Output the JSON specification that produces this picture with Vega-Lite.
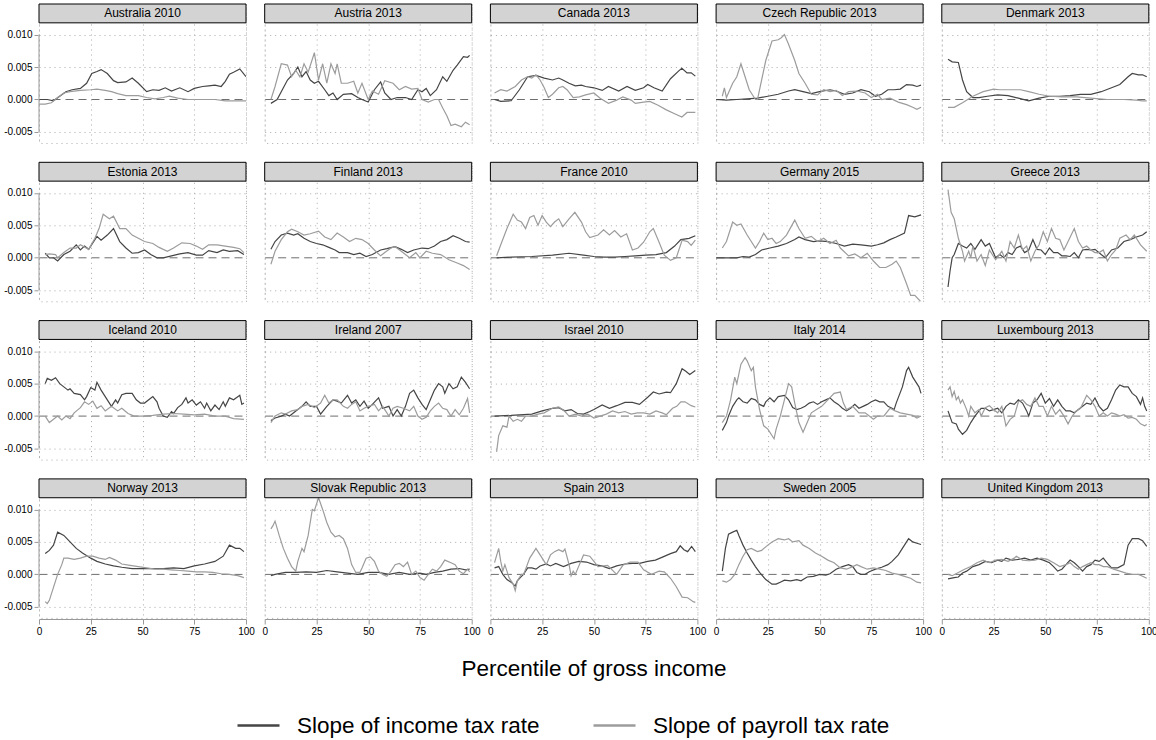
{
"$schema":"https://vega.github.io/schema/vega-lite/v6.json",
"background":"white",
"padding":{"left":3,"top":2,"right":2,"bottom":2},
"config":{
 "font":"Liberation Sans",
 "view":{"stroke":"#aaaaaa","strokeDash":[1,4]},
 "axis":{"labelFont":"Liberation Sans","labelColor":"#000","labelFontSize":10}
},
"datasets":{"names":[
{"c":"AU","n":"Australia 2010"},{"c":"AT","n":"Austria 2013"},{"c":"CA","n":"Canada 2013"},{"c":"CZ","n":"Czech Republic 2013"},{"c":"DK","n":"Denmark 2013"},
{"c":"EE","n":"Estonia 2013"},{"c":"FI","n":"Finland 2013"},{"c":"FR","n":"France 2010"},{"c":"DE","n":"Germany 2015"},{"c":"GR","n":"Greece 2013"},
{"c":"IS","n":"Iceland 2010"},{"c":"IE","n":"Ireland 2007"},{"c":"IL","n":"Israel 2010"},{"c":"IT","n":"Italy 2014"},{"c":"LU","n":"Luxembourg 2013"},
{"c":"NO","n":"Norway 2013"},{"c":"SK","n":"Slovak Republic 2013"},{"c":"ES","n":"Spain 2013"},{"c":"SE","n":"Sweden 2005"},{"c":"GB","n":"United Kingdom 2013"}
]},
"data":{"values":[
{"c":"AU","s":"i","x":0,"y":0},{"c":"AU","s":"i","x":4,"y":0},{"c":"AU","s":"i","x":7,"y":-0.0002},{"c":"AU","s":"i","x":10,"y":0.0005},{"c":"AU","s":"i","x":13,"y":0.0012},{"c":"AU","s":"i","x":16,"y":0.0015},{"c":"AU","s":"i","x":20,"y":0.0017},{"c":"AU","s":"i","x":23,"y":0.0025},{"c":"AU","s":"i","x":25.5,"y":0.004},{"c":"AU","s":"i","x":28,"y":0.0043},{"c":"AU","s":"i","x":30,"y":0.0046},{"c":"AU","s":"i","x":33,"y":0.004},{"c":"AU","s":"i","x":36,"y":0.0029},{"c":"AU","s":"i","x":38,"y":0.0026},{"c":"AU","s":"i","x":42,"y":0.0027},{"c":"AU","s":"i","x":45,"y":0.0033},{"c":"AU","s":"i","x":48,"y":0.0025},{"c":"AU","s":"i","x":52,"y":0.0012},{"c":"AU","s":"i","x":55,"y":0.0015},{"c":"AU","s":"i","x":58,"y":0.0014},{"c":"AU","s":"i","x":61,"y":0.0018},{"c":"AU","s":"i","x":64,"y":0.0013},{"c":"AU","s":"i","x":68,"y":0.0018},{"c":"AU","s":"i","x":72,"y":0.0012},{"c":"AU","s":"i","x":75,"y":0.0017},{"c":"AU","s":"i","x":79,"y":0.002},{"c":"AU","s":"i","x":82,"y":0.0021},{"c":"AU","s":"i","x":85,"y":0.0022},{"c":"AU","s":"i","x":88,"y":0.002},{"c":"AU","s":"i","x":90,"y":0.0028},{"c":"AU","s":"i","x":92,"y":0.0039},{"c":"AU","s":"i","x":94,"y":0.0042},{"c":"AU","s":"i","x":97,"y":0.0047},{"c":"AU","s":"i","x":100,"y":0.0035},
{"c":"AU","s":"p","x":0,"y":-0.0007},{"c":"AU","s":"p","x":3,"y":-0.0007},{"c":"AU","s":"p","x":6,"y":-0.0005},{"c":"AU","s":"p","x":9,"y":0.0003},{"c":"AU","s":"p","x":12,"y":0.001},{"c":"AU","s":"p","x":15,"y":0.0012},{"c":"AU","s":"p","x":20,"y":0.0014},{"c":"AU","s":"p","x":25,"y":0.0015},{"c":"AU","s":"p","x":28,"y":0.0016},{"c":"AU","s":"p","x":32,"y":0.0014},{"c":"AU","s":"p","x":35,"y":0.0012},{"c":"AU","s":"p","x":38,"y":0.0009},{"c":"AU","s":"p","x":42,"y":0.0006},{"c":"AU","s":"p","x":48,"y":0.0006},{"c":"AU","s":"p","x":52,"y":0.0003},{"c":"AU","s":"p","x":56,"y":0.0001},{"c":"AU","s":"p","x":60,"y":0.0003},{"c":"AU","s":"p","x":63,"y":0.0005},{"c":"AU","s":"p","x":67,"y":0.0002},{"c":"AU","s":"p","x":72,"y":0},{"c":"AU","s":"p","x":80,"y":0},{"c":"AU","s":"p","x":85,"y":0},{"c":"AU","s":"p","x":90,"y":-0.0002},{"c":"AU","s":"p","x":95,"y":-0.0002},{"c":"AU","s":"p","x":100,"y":-0.0002},
{"c":"AT","s":"i","x":3,"y":-0.0006},{"c":"AT","s":"i","x":6,"y":0},{"c":"AT","s":"i","x":8,"y":0.0012},{"c":"AT","s":"i","x":11,"y":0.003},{"c":"AT","s":"i","x":14,"y":0.004},{"c":"AT","s":"i","x":16,"y":0.005},{"c":"AT","s":"i","x":18,"y":0.0035},{"c":"AT","s":"i","x":20,"y":0.0043},{"c":"AT","s":"i","x":22,"y":0.003},{"c":"AT","s":"i","x":24,"y":0.0025},{"c":"AT","s":"i","x":26,"y":0.0028},{"c":"AT","s":"i","x":29,"y":0.0015},{"c":"AT","s":"i","x":31,"y":0.0006},{"c":"AT","s":"i","x":33,"y":0.001},{"c":"AT","s":"i","x":35,"y":0},{"c":"AT","s":"i","x":38,"y":0.0008},{"c":"AT","s":"i","x":42,"y":0.0009},{"c":"AT","s":"i","x":45,"y":0.0003},{"c":"AT","s":"i","x":47,"y":0},{"c":"AT","s":"i","x":50,"y":-0.0004},{"c":"AT","s":"i","x":53,"y":0.0015},{"c":"AT","s":"i","x":56,"y":0.0027},{"c":"AT","s":"i","x":58,"y":0.001},{"c":"AT","s":"i","x":61,"y":0},{"c":"AT","s":"i","x":64,"y":0.0003},{"c":"AT","s":"i","x":68,"y":0.0003},{"c":"AT","s":"i","x":71,"y":0},{"c":"AT","s":"i","x":74,"y":0.0015},{"c":"AT","s":"i","x":76,"y":0.0012},{"c":"AT","s":"i","x":78,"y":0.0017},{"c":"AT","s":"i","x":80,"y":0.0006},{"c":"AT","s":"i","x":83,"y":0.0015},{"c":"AT","s":"i","x":86,"y":0.0035},{"c":"AT","s":"i","x":88,"y":0.0028},{"c":"AT","s":"i","x":91,"y":0.0045},{"c":"AT","s":"i","x":93,"y":0.0053},{"c":"AT","s":"i","x":96,"y":0.0066},{"c":"AT","s":"i","x":98,"y":0.0065},{"c":"AT","s":"i","x":99,"y":0.0068},
{"c":"AT","s":"p","x":3,"y":0},{"c":"AT","s":"p","x":5,"y":0.002},{"c":"AT","s":"p","x":8,"y":0.0055},{"c":"AT","s":"p","x":11,"y":0.0053},{"c":"AT","s":"p","x":13,"y":0.0035},{"c":"AT","s":"p","x":15,"y":0.0045},{"c":"AT","s":"p","x":17,"y":0.0035},{"c":"AT","s":"p","x":19,"y":0.0055},{"c":"AT","s":"p","x":21,"y":0.0042},{"c":"AT","s":"p","x":24,"y":0.0072},{"c":"AT","s":"p","x":26,"y":0.003},{"c":"AT","s":"p","x":28,"y":0.0055},{"c":"AT","s":"p","x":30,"y":0.0025},{"c":"AT","s":"p","x":32,"y":0.0055},{"c":"AT","s":"p","x":34,"y":0.004},{"c":"AT","s":"p","x":35,"y":0.0055},{"c":"AT","s":"p","x":37,"y":0.0025},{"c":"AT","s":"p","x":40,"y":0.0025},{"c":"AT","s":"p","x":43,"y":0.0028},{"c":"AT","s":"p","x":45,"y":0.001},{"c":"AT","s":"p","x":47,"y":0.0025},{"c":"AT","s":"p","x":50,"y":0},{"c":"AT","s":"p","x":52,"y":0.0013},{"c":"AT","s":"p","x":55,"y":0.0008},{"c":"AT","s":"p","x":58,"y":0.0029},{"c":"AT","s":"p","x":62,"y":0.0025},{"c":"AT","s":"p","x":65,"y":0.0015},{"c":"AT","s":"p","x":68,"y":0.002},{"c":"AT","s":"p","x":71,"y":0.0016},{"c":"AT","s":"p","x":74,"y":0.0017},{"c":"AT","s":"p","x":76,"y":0},{"c":"AT","s":"p","x":79,"y":-0.0004},{"c":"AT","s":"p","x":82,"y":0},{"c":"AT","s":"p","x":84,"y":0},{"c":"AT","s":"p","x":86,"y":-0.0013},{"c":"AT","s":"p","x":88,"y":-0.0025},{"c":"AT","s":"p","x":90,"y":-0.004},{"c":"AT","s":"p","x":92,"y":-0.0038},{"c":"AT","s":"p","x":95,"y":-0.0042},{"c":"AT","s":"p","x":97,"y":-0.0035},{"c":"AT","s":"p","x":99,"y":-0.0039},
{"c":"CA","s":"i","x":2,"y":0},{"c":"CA","s":"i","x":5,"y":-0.0003},{"c":"CA","s":"i","x":10,"y":-0.0002},{"c":"CA","s":"i","x":14,"y":0.0015},{"c":"CA","s":"i","x":18,"y":0.0035},{"c":"CA","s":"i","x":22,"y":0.0037},{"c":"CA","s":"i","x":26,"y":0.0033},{"c":"CA","s":"i","x":30,"y":0.003},{"c":"CA","s":"i","x":33,"y":0.0033},{"c":"CA","s":"i","x":35,"y":0.003},{"c":"CA","s":"i","x":38,"y":0.0025},{"c":"CA","s":"i","x":41,"y":0.0021},{"c":"CA","s":"i","x":44,"y":0.0022},{"c":"CA","s":"i","x":46,"y":0.002},{"c":"CA","s":"i","x":50,"y":0.0018},{"c":"CA","s":"i","x":54,"y":0.0014},{"c":"CA","s":"i","x":57,"y":0.002},{"c":"CA","s":"i","x":62,"y":0.0013},{"c":"CA","s":"i","x":66,"y":0.002},{"c":"CA","s":"i","x":70,"y":0.0014},{"c":"CA","s":"i","x":74,"y":0.0018},{"c":"CA","s":"i","x":76,"y":0.0023},{"c":"CA","s":"i","x":79,"y":0.0018},{"c":"CA","s":"i","x":83,"y":0.0013},{"c":"CA","s":"i","x":87,"y":0.0032},{"c":"CA","s":"i","x":91,"y":0.0044},{"c":"CA","s":"i","x":92.5,"y":0.0048},{"c":"CA","s":"i","x":95,"y":0.0041},{"c":"CA","s":"i","x":97,"y":0.0041},{"c":"CA","s":"i","x":99,"y":0.0036},
{"c":"CA","s":"p","x":2,"y":0.001},{"c":"CA","s":"p","x":5,"y":0.0015},{"c":"CA","s":"p","x":8,"y":0.0013},{"c":"CA","s":"p","x":12,"y":0.002},{"c":"CA","s":"p","x":15,"y":0.003},{"c":"CA","s":"p","x":18,"y":0.0035},{"c":"CA","s":"p","x":20,"y":0.0033},{"c":"CA","s":"p","x":22,"y":0.0038},{"c":"CA","s":"p","x":24,"y":0.003},{"c":"CA","s":"p","x":26,"y":0.0018},{"c":"CA","s":"p","x":28,"y":0.0003},{"c":"CA","s":"p","x":30,"y":0.0008},{"c":"CA","s":"p","x":33,"y":0.0018},{"c":"CA","s":"p","x":35,"y":0.002},{"c":"CA","s":"p","x":37,"y":0.0015},{"c":"CA","s":"p","x":40,"y":0.0003},{"c":"CA","s":"p","x":43,"y":0.0004},{"c":"CA","s":"p","x":46,"y":0.0007},{"c":"CA","s":"p","x":50,"y":0.001},{"c":"CA","s":"p","x":53,"y":0.0002},{"c":"CA","s":"p","x":57,"y":-0.0006},{"c":"CA","s":"p","x":61,"y":-0.0001},{"c":"CA","s":"p","x":64,"y":0.0004},{"c":"CA","s":"p","x":68,"y":-0.0001},{"c":"CA","s":"p","x":70,"y":-0.0006},{"c":"CA","s":"p","x":74,"y":-0.0004},{"c":"CA","s":"p","x":77,"y":-0.0003},{"c":"CA","s":"p","x":81,"y":-0.0009},{"c":"CA","s":"p","x":85,"y":-0.0016},{"c":"CA","s":"p","x":89,"y":-0.0022},{"c":"CA","s":"p","x":92.5,"y":-0.0027},{"c":"CA","s":"p","x":95,"y":-0.002},{"c":"CA","s":"p","x":99,"y":-0.002},
{"c":"CZ","s":"i","x":0,"y":0},{"c":"CZ","s":"i","x":5,"y":-0.0001},{"c":"CZ","s":"i","x":10,"y":0},{"c":"CZ","s":"i","x":15,"y":0.0001},{"c":"CZ","s":"i","x":20,"y":0.0002},{"c":"CZ","s":"i","x":25,"y":0.0005},{"c":"CZ","s":"i","x":30,"y":0.0008},{"c":"CZ","s":"i","x":35,"y":0.0013},{"c":"CZ","s":"i","x":38,"y":0.0015},{"c":"CZ","s":"i","x":42,"y":0.0012},{"c":"CZ","s":"i","x":46,"y":0.0009},{"c":"CZ","s":"i","x":50,"y":0.0012},{"c":"CZ","s":"i","x":55,"y":0.0015},{"c":"CZ","s":"i","x":58,"y":0.0013},{"c":"CZ","s":"i","x":62,"y":0.0008},{"c":"CZ","s":"i","x":66,"y":0.001},{"c":"CZ","s":"i","x":70,"y":0.0015},{"c":"CZ","s":"i","x":74,"y":0.0012},{"c":"CZ","s":"i","x":77,"y":0.0005},{"c":"CZ","s":"i","x":80,"y":0.0008},{"c":"CZ","s":"i","x":83,"y":0.0015},{"c":"CZ","s":"i","x":86,"y":0.0015},{"c":"CZ","s":"i","x":89,"y":0.0016},{"c":"CZ","s":"i","x":92,"y":0.0023},{"c":"CZ","s":"i","x":95,"y":0.0022},{"c":"CZ","s":"i","x":97,"y":0.002},{"c":"CZ","s":"i","x":99,"y":0.0022},
{"c":"CZ","s":"p","x":3,"y":0.0005},{"c":"CZ","s":"p","x":4,"y":0.0018},{"c":"CZ","s":"p","x":5,"y":0.0003},{"c":"CZ","s":"p","x":8,"y":0.0025},{"c":"CZ","s":"p","x":10,"y":0.0035},{"c":"CZ","s":"p","x":12,"y":0.0055},{"c":"CZ","s":"p","x":13,"y":0.0045},{"c":"CZ","s":"p","x":14,"y":0.0035},{"c":"CZ","s":"p","x":16,"y":0.0015},{"c":"CZ","s":"p","x":19,"y":0},{"c":"CZ","s":"p","x":20,"y":0},{"c":"CZ","s":"p","x":22,"y":0.003},{"c":"CZ","s":"p","x":24,"y":0.006},{"c":"CZ","s":"p","x":27,"y":0.009},{"c":"CZ","s":"p","x":30,"y":0.0092},{"c":"CZ","s":"p","x":31.5,"y":0.0095},{"c":"CZ","s":"p","x":33,"y":0.01},{"c":"CZ","s":"p","x":35,"y":0.0085},{"c":"CZ","s":"p","x":38,"y":0.006},{"c":"CZ","s":"p","x":40,"y":0.004},{"c":"CZ","s":"p","x":43,"y":0.0025},{"c":"CZ","s":"p","x":46,"y":0.0008},{"c":"CZ","s":"p","x":49,"y":0.0007},{"c":"CZ","s":"p","x":52,"y":0.0015},{"c":"CZ","s":"p","x":55,"y":0.0012},{"c":"CZ","s":"p","x":58,"y":0.0014},{"c":"CZ","s":"p","x":61,"y":0.0006},{"c":"CZ","s":"p","x":64,"y":0.0012},{"c":"CZ","s":"p","x":68,"y":0.0013},{"c":"CZ","s":"p","x":72,"y":0.001},{"c":"CZ","s":"p","x":75,"y":0.0003},{"c":"CZ","s":"p","x":78,"y":0.0008},{"c":"CZ","s":"p","x":80,"y":0},{"c":"CZ","s":"p","x":84,"y":0.0002},{"c":"CZ","s":"p","x":88,"y":-0.0004},{"c":"CZ","s":"p","x":92,"y":-0.0008},{"c":"CZ","s":"p","x":95,"y":-0.0012},{"c":"CZ","s":"p","x":97,"y":-0.0015},{"c":"CZ","s":"p","x":99,"y":-0.0012},
{"c":"DK","s":"i","x":3,"y":0.0062},{"c":"DK","s":"i","x":5,"y":0.0058},{"c":"DK","s":"i","x":8,"y":0.0057},{"c":"DK","s":"i","x":10,"y":0.003},{"c":"DK","s":"i","x":12,"y":0.0012},{"c":"DK","s":"i","x":15,"y":0.0003},{"c":"DK","s":"i","x":18,"y":0.0003},{"c":"DK","s":"i","x":22,"y":0.0005},{"c":"DK","s":"i","x":27,"y":0.0007},{"c":"DK","s":"i","x":32,"y":0.0006},{"c":"DK","s":"i","x":37,"y":0.0002},{"c":"DK","s":"i","x":42,"y":-0.0002},{"c":"DK","s":"i","x":47,"y":0.0002},{"c":"DK","s":"i","x":52,"y":0.0005},{"c":"DK","s":"i","x":57,"y":0.0005},{"c":"DK","s":"i","x":62,"y":0.0006},{"c":"DK","s":"i","x":67,"y":0.0008},{"c":"DK","s":"i","x":72,"y":0.0008},{"c":"DK","s":"i","x":77,"y":0.0012},{"c":"DK","s":"i","x":82,"y":0.0018},{"c":"DK","s":"i","x":86,"y":0.0023},{"c":"DK","s":"i","x":90,"y":0.0035},{"c":"DK","s":"i","x":92,"y":0.004},{"c":"DK","s":"i","x":95,"y":0.0038},{"c":"DK","s":"i","x":97,"y":0.0038},{"c":"DK","s":"i","x":99,"y":0.0035},
{"c":"DK","s":"p","x":3,"y":-0.0012},{"c":"DK","s":"p","x":6,"y":-0.0012},{"c":"DK","s":"p","x":10,"y":-0.0005},{"c":"DK","s":"p","x":15,"y":0.0005},{"c":"DK","s":"p","x":20,"y":0.0012},{"c":"DK","s":"p","x":25,"y":0.0016},{"c":"DK","s":"p","x":28,"y":0.0015},{"c":"DK","s":"p","x":33,"y":0.0015},{"c":"DK","s":"p","x":38,"y":0.0015},{"c":"DK","s":"p","x":42,"y":0.0012},{"c":"DK","s":"p","x":47,"y":0.0008},{"c":"DK","s":"p","x":52,"y":0.0005},{"c":"DK","s":"p","x":58,"y":0.0004},{"c":"DK","s":"p","x":65,"y":0.0004},{"c":"DK","s":"p","x":72,"y":0.0002},{"c":"DK","s":"p","x":80,"y":0},{"c":"DK","s":"p","x":88,"y":0},{"c":"DK","s":"p","x":94,"y":-0.0001},{"c":"DK","s":"p","x":97,"y":-0.0002},{"c":"DK","s":"p","x":99,"y":-0.0002},
{"c":"EE","s":"i","x":3,"y":0.0007},{"c":"EE","s":"i","x":5,"y":0},{"c":"EE","s":"i","x":7,"y":0},{"c":"EE","s":"i","x":9,"y":-0.0005},{"c":"EE","s":"i","x":12,"y":0.0005},{"c":"EE","s":"i","x":15,"y":0.001},{"c":"EE","s":"i","x":18,"y":0.002},{"c":"EE","s":"i","x":20,"y":0.0012},{"c":"EE","s":"i","x":22,"y":0.0018},{"c":"EE","s":"i","x":24,"y":0.0013},{"c":"EE","s":"i","x":28,"y":0.0033},{"c":"EE","s":"i","x":30,"y":0.0027},{"c":"EE","s":"i","x":33,"y":0.0035},{"c":"EE","s":"i","x":36,"y":0.0045},{"c":"EE","s":"i","x":39,"y":0.0025},{"c":"EE","s":"i","x":42,"y":0.0015},{"c":"EE","s":"i","x":45,"y":0.0007},{"c":"EE","s":"i","x":48,"y":0.0008},{"c":"EE","s":"i","x":51,"y":0.0012},{"c":"EE","s":"i","x":54,"y":0.0005},{"c":"EE","s":"i","x":57,"y":0},{"c":"EE","s":"i","x":60,"y":0},{"c":"EE","s":"i","x":64,"y":0.0003},{"c":"EE","s":"i","x":68,"y":0.0006},{"c":"EE","s":"i","x":72,"y":0.0008},{"c":"EE","s":"i","x":76,"y":0.0004},{"c":"EE","s":"i","x":79,"y":0.0004},{"c":"EE","s":"i","x":82,"y":0.0011},{"c":"EE","s":"i","x":86,"y":0.0008},{"c":"EE","s":"i","x":89,"y":0.0012},{"c":"EE","s":"i","x":92,"y":0.001},{"c":"EE","s":"i","x":96,"y":0.0011},{"c":"EE","s":"i","x":99,"y":0.0005},
{"c":"EE","s":"p","x":3,"y":0.0005},{"c":"EE","s":"p","x":5,"y":0.0006},{"c":"EE","s":"p","x":8,"y":0.0005},{"c":"EE","s":"p","x":9,"y":0},{"c":"EE","s":"p","x":12,"y":0.0008},{"c":"EE","s":"p","x":15,"y":0.0015},{"c":"EE","s":"p","x":18,"y":0.0015},{"c":"EE","s":"p","x":20,"y":0.002},{"c":"EE","s":"p","x":24,"y":0.0013},{"c":"EE","s":"p","x":27,"y":0.003},{"c":"EE","s":"p","x":29,"y":0.0045},{"c":"EE","s":"p","x":31,"y":0.0067},{"c":"EE","s":"p","x":34,"y":0.006},{"c":"EE","s":"p","x":36,"y":0.0064},{"c":"EE","s":"p","x":39,"y":0.0045},{"c":"EE","s":"p","x":42,"y":0.0045},{"c":"EE","s":"p","x":45,"y":0.0035},{"c":"EE","s":"p","x":48,"y":0.003},{"c":"EE","s":"p","x":51,"y":0.0025},{"c":"EE","s":"p","x":55,"y":0.0022},{"c":"EE","s":"p","x":58,"y":0.0016},{"c":"EE","s":"p","x":62,"y":0.001},{"c":"EE","s":"p","x":65,"y":0.0015},{"c":"EE","s":"p","x":69,"y":0.0023},{"c":"EE","s":"p","x":73,"y":0.0022},{"c":"EE","s":"p","x":76,"y":0.0018},{"c":"EE","s":"p","x":79,"y":0.0013},{"c":"EE","s":"p","x":82,"y":0.002},{"c":"EE","s":"p","x":86,"y":0.002},{"c":"EE","s":"p","x":90,"y":0.0018},{"c":"EE","s":"p","x":94,"y":0.0016},{"c":"EE","s":"p","x":97,"y":0.0014},{"c":"EE","s":"p","x":99,"y":0.0008},
{"c":"FI","s":"i","x":3,"y":0.0013},{"c":"FI","s":"i","x":5,"y":0.0025},{"c":"FI","s":"i","x":8,"y":0.0035},{"c":"FI","s":"i","x":11,"y":0.0038},{"c":"FI","s":"i","x":14,"y":0.0035},{"c":"FI","s":"i","x":16,"y":0.0037},{"c":"FI","s":"i","x":19,"y":0.003},{"c":"FI","s":"i","x":22,"y":0.0025},{"c":"FI","s":"i","x":25,"y":0.0022},{"c":"FI","s":"i","x":28,"y":0.002},{"c":"FI","s":"i","x":31,"y":0.0016},{"c":"FI","s":"i","x":34,"y":0.0012},{"c":"FI","s":"i","x":36,"y":0.0008},{"c":"FI","s":"i","x":40,"y":0.0008},{"c":"FI","s":"i","x":43,"y":0.0005},{"c":"FI","s":"i","x":46,"y":0.0007},{"c":"FI","s":"i","x":49,"y":0.0002},{"c":"FI","s":"i","x":52,"y":0.0005},{"c":"FI","s":"i","x":56,"y":0.0012},{"c":"FI","s":"i","x":59,"y":0.0014},{"c":"FI","s":"i","x":63,"y":0.0017},{"c":"FI","s":"i","x":66,"y":0.0013},{"c":"FI","s":"i","x":69,"y":0.0008},{"c":"FI","s":"i","x":72,"y":0.0012},{"c":"FI","s":"i","x":76,"y":0.0015},{"c":"FI","s":"i","x":79,"y":0.0014},{"c":"FI","s":"i","x":82,"y":0.0018},{"c":"FI","s":"i","x":85,"y":0.0025},{"c":"FI","s":"i","x":88,"y":0.0028},{"c":"FI","s":"i","x":91,"y":0.0034},{"c":"FI","s":"i","x":94,"y":0.003},{"c":"FI","s":"i","x":97,"y":0.0025},{"c":"FI","s":"i","x":99,"y":0.0024},
{"c":"FI","s":"p","x":3,"y":-0.001},{"c":"FI","s":"p","x":5,"y":0.001},{"c":"FI","s":"p","x":8,"y":0.0028},{"c":"FI","s":"p","x":11,"y":0.004},{"c":"FI","s":"p","x":13,"y":0.0044},{"c":"FI","s":"p","x":16,"y":0.004},{"c":"FI","s":"p","x":19,"y":0.0035},{"c":"FI","s":"p","x":22,"y":0.0037},{"c":"FI","s":"p","x":26,"y":0.0041},{"c":"FI","s":"p","x":29,"y":0.0032},{"c":"FI","s":"p","x":32,"y":0.0028},{"c":"FI","s":"p","x":35,"y":0.0038},{"c":"FI","s":"p","x":38,"y":0.0032},{"c":"FI","s":"p","x":41,"y":0.0025},{"c":"FI","s":"p","x":44,"y":0.003},{"c":"FI","s":"p","x":47,"y":0.0028},{"c":"FI","s":"p","x":50,"y":0.0022},{"c":"FI","s":"p","x":53,"y":0.0012},{"c":"FI","s":"p","x":56,"y":0.0003},{"c":"FI","s":"p","x":58,"y":0.0008},{"c":"FI","s":"p","x":61,"y":0.0015},{"c":"FI","s":"p","x":63,"y":0.0017},{"c":"FI","s":"p","x":66,"y":0.001},{"c":"FI","s":"p","x":70,"y":0},{"c":"FI","s":"p","x":73,"y":0.0008},{"c":"FI","s":"p","x":75,"y":0},{"c":"FI","s":"p","x":78,"y":0.001},{"c":"FI","s":"p","x":81,"y":0.0007},{"c":"FI","s":"p","x":85,"y":0.0005},{"c":"FI","s":"p","x":89,"y":-0.0003},{"c":"FI","s":"p","x":93,"y":-0.0008},{"c":"FI","s":"p","x":96,"y":-0.0012},{"c":"FI","s":"p","x":99,"y":-0.0018},
{"c":"FR","s":"i","x":3,"y":0},{"c":"FR","s":"i","x":10,"y":0.0001},{"c":"FR","s":"i","x":20,"y":0.0002},{"c":"FR","s":"i","x":30,"y":0.0004},{"c":"FR","s":"i","x":38,"y":0.0007},{"c":"FR","s":"i","x":45,"y":0.0004},{"c":"FR","s":"i","x":50,"y":0.0002},{"c":"FR","s":"i","x":55,"y":0.0001},{"c":"FR","s":"i","x":60,"y":0.0001},{"c":"FR","s":"i","x":65,"y":0.0002},{"c":"FR","s":"i","x":70,"y":0.0003},{"c":"FR","s":"i","x":75,"y":0.0004},{"c":"FR","s":"i","x":80,"y":0.0005},{"c":"FR","s":"i","x":85,"y":0.0008},{"c":"FR","s":"i","x":89,"y":0.0018},{"c":"FR","s":"i","x":92,"y":0.0028},{"c":"FR","s":"i","x":96,"y":0.003},{"c":"FR","s":"i","x":99,"y":0.0034},
{"c":"FR","s":"p","x":3,"y":0.0003},{"c":"FR","s":"p","x":5,"y":0.002},{"c":"FR","s":"p","x":8,"y":0.0045},{"c":"FR","s":"p","x":11,"y":0.0067},{"c":"FR","s":"p","x":13,"y":0.0058},{"c":"FR","s":"p","x":15,"y":0.0055},{"c":"FR","s":"p","x":17,"y":0.0045},{"c":"FR","s":"p","x":19,"y":0.0062},{"c":"FR","s":"p","x":21,"y":0.0065},{"c":"FR","s":"p","x":23,"y":0.005},{"c":"FR","s":"p","x":25,"y":0.0065},{"c":"FR","s":"p","x":27,"y":0.0055},{"c":"FR","s":"p","x":29,"y":0.0048},{"c":"FR","s":"p","x":31,"y":0.0055},{"c":"FR","s":"p","x":33,"y":0.006},{"c":"FR","s":"p","x":35,"y":0.0048},{"c":"FR","s":"p","x":38,"y":0.006},{"c":"FR","s":"p","x":40.8,"y":0.007},{"c":"FR","s":"p","x":44,"y":0.0055},{"c":"FR","s":"p","x":46,"y":0.004},{"c":"FR","s":"p","x":48,"y":0.0031},{"c":"FR","s":"p","x":52,"y":0.0035},{"c":"FR","s":"p","x":54.7,"y":0.0043},{"c":"FR","s":"p","x":57.5,"y":0.0035},{"c":"FR","s":"p","x":60,"y":0.0042},{"c":"FR","s":"p","x":63,"y":0.0032},{"c":"FR","s":"p","x":65.8,"y":0.0037},{"c":"FR","s":"p","x":68.6,"y":0.0012},{"c":"FR","s":"p","x":71.3,"y":0.0015},{"c":"FR","s":"p","x":74,"y":0.0024},{"c":"FR","s":"p","x":77,"y":0.004},{"c":"FR","s":"p","x":78.7,"y":0.0045},{"c":"FR","s":"p","x":81.5,"y":0.0024},{"c":"FR","s":"p","x":84,"y":0.0004},{"c":"FR","s":"p","x":87,"y":-0.0004},{"c":"FR","s":"p","x":89.8,"y":0},{"c":"FR","s":"p","x":92.6,"y":0.0027},{"c":"FR","s":"p","x":95.3,"y":0.0025},{"c":"FR","s":"p","x":97,"y":0.0019},{"c":"FR","s":"p","x":99,"y":0.0027},
{"c":"DE","s":"i","x":0,"y":0},{"c":"DE","s":"i","x":5,"y":0},{"c":"DE","s":"i","x":10,"y":0},{"c":"DE","s":"i","x":13,"y":0.0002},{"c":"DE","s":"i","x":16,"y":0.0001},{"c":"DE","s":"i","x":19,"y":0.0005},{"c":"DE","s":"i","x":22,"y":0.0012},{"c":"DE","s":"i","x":26,"y":0.0015},{"c":"DE","s":"i","x":30,"y":0.0018},{"c":"DE","s":"i","x":34,"y":0.0022},{"c":"DE","s":"i","x":38,"y":0.0028},{"c":"DE","s":"i","x":40,"y":0.0032},{"c":"DE","s":"i","x":43,"y":0.0028},{"c":"DE","s":"i","x":47,"y":0.0025},{"c":"DE","s":"i","x":50,"y":0.0026},{"c":"DE","s":"i","x":54,"y":0.0025},{"c":"DE","s":"i","x":58,"y":0.0022},{"c":"DE","s":"i","x":62,"y":0.0018},{"c":"DE","s":"i","x":66,"y":0.0021},{"c":"DE","s":"i","x":70,"y":0.002},{"c":"DE","s":"i","x":75,"y":0.0018},{"c":"DE","s":"i","x":78,"y":0.002},{"c":"DE","s":"i","x":81,"y":0.0023},{"c":"DE","s":"i","x":84,"y":0.0028},{"c":"DE","s":"i","x":87,"y":0.0032},{"c":"DE","s":"i","x":91,"y":0.0038},{"c":"DE","s":"i","x":93,"y":0.0065},{"c":"DE","s":"i","x":96,"y":0.0063},{"c":"DE","s":"i","x":99,"y":0.0066},
{"c":"DE","s":"p","x":3,"y":0.0015},{"c":"DE","s":"p","x":5,"y":0.0025},{"c":"DE","s":"p","x":8,"y":0.0055},{"c":"DE","s":"p","x":10,"y":0.005},{"c":"DE","s":"p","x":12,"y":0.0052},{"c":"DE","s":"p","x":15,"y":0.0035},{"c":"DE","s":"p","x":17,"y":0.0025},{"c":"DE","s":"p","x":19,"y":0.0015},{"c":"DE","s":"p","x":21,"y":0.0025},{"c":"DE","s":"p","x":23,"y":0.0038},{"c":"DE","s":"p","x":25,"y":0.0028},{"c":"DE","s":"p","x":27,"y":0.003},{"c":"DE","s":"p","x":29,"y":0.0022},{"c":"DE","s":"p","x":31,"y":0.0025},{"c":"DE","s":"p","x":34,"y":0.0035},{"c":"DE","s":"p","x":38,"y":0.0058},{"c":"DE","s":"p","x":40,"y":0.0045},{"c":"DE","s":"p","x":43,"y":0.003},{"c":"DE","s":"p","x":46,"y":0.0033},{"c":"DE","s":"p","x":49,"y":0.0025},{"c":"DE","s":"p","x":52,"y":0.003},{"c":"DE","s":"p","x":55,"y":0.0022},{"c":"DE","s":"p","x":58,"y":0.0027},{"c":"DE","s":"p","x":60,"y":0.0015},{"c":"DE","s":"p","x":64,"y":0.0003},{"c":"DE","s":"p","x":67,"y":0.0006},{"c":"DE","s":"p","x":70,"y":0},{"c":"DE","s":"p","x":73,"y":0.0007},{"c":"DE","s":"p","x":76,"y":-0.0005},{"c":"DE","s":"p","x":79,"y":-0.0015},{"c":"DE","s":"p","x":82,"y":-0.0015},{"c":"DE","s":"p","x":85,"y":-0.001},{"c":"DE","s":"p","x":87,"y":-0.0005},{"c":"DE","s":"p","x":89,"y":-0.0015},{"c":"DE","s":"p","x":92,"y":-0.004},{"c":"DE","s":"p","x":94,"y":-0.0058},{"c":"DE","s":"p","x":96,"y":-0.0058},{"c":"DE","s":"p","x":99,"y":-0.0068},
{"c":"GR","s":"i","x":3,"y":-0.0045},{"c":"GR","s":"i","x":4,"y":-0.002},{"c":"GR","s":"i","x":5,"y":0},{"c":"GR","s":"i","x":6,"y":0.0005},{"c":"GR","s":"i","x":8,"y":0.0022},{"c":"GR","s":"i","x":10,"y":0.0018},{"c":"GR","s":"i","x":12,"y":0.0015},{"c":"GR","s":"i","x":14,"y":0.0022},{"c":"GR","s":"i","x":16,"y":0.0013},{"c":"GR","s":"i","x":19,"y":0.0028},{"c":"GR","s":"i","x":21,"y":0.0018},{"c":"GR","s":"i","x":23,"y":0.0022},{"c":"GR","s":"i","x":26,"y":0},{"c":"GR","s":"i","x":28,"y":0.0005},{"c":"GR","s":"i","x":30,"y":0},{"c":"GR","s":"i","x":32,"y":0.0008},{"c":"GR","s":"i","x":34,"y":0.0005},{"c":"GR","s":"i","x":36,"y":0.0015},{"c":"GR","s":"i","x":38,"y":0.0018},{"c":"GR","s":"i","x":40,"y":0.0008},{"c":"GR","s":"i","x":42,"y":0.0012},{"c":"GR","s":"i","x":44,"y":0.0028},{"c":"GR","s":"i","x":46,"y":0.0013},{"c":"GR","s":"i","x":48,"y":0.0012},{"c":"GR","s":"i","x":50,"y":0.0005},{"c":"GR","s":"i","x":52,"y":0.0015},{"c":"GR","s":"i","x":54,"y":0.0008},{"c":"GR","s":"i","x":56,"y":0.0008},{"c":"GR","s":"i","x":58,"y":0.0003},{"c":"GR","s":"i","x":60,"y":0.0003},{"c":"GR","s":"i","x":62,"y":0.0002},{"c":"GR","s":"i","x":64,"y":0.0008},{"c":"GR","s":"i","x":66,"y":0},{"c":"GR","s":"i","x":68,"y":0.0012},{"c":"GR","s":"i","x":70,"y":0.0013},{"c":"GR","s":"i","x":72,"y":0.0012},{"c":"GR","s":"i","x":74,"y":0.0013},{"c":"GR","s":"i","x":77,"y":0.0005},{"c":"GR","s":"i","x":79,"y":0},{"c":"GR","s":"i","x":82,"y":0.0012},{"c":"GR","s":"i","x":85,"y":0.0015},{"c":"GR","s":"i","x":88,"y":0.0025},{"c":"GR","s":"i","x":91,"y":0.0028},{"c":"GR","s":"i","x":94,"y":0.0032},{"c":"GR","s":"i","x":97,"y":0.0035},{"c":"GR","s":"i","x":99,"y":0.004},
{"c":"GR","s":"p","x":3,"y":0.0105},{"c":"GR","s":"p","x":4.5,"y":0.007},{"c":"GR","s":"p","x":6,"y":0.006},{"c":"GR","s":"p","x":8,"y":0.003},{"c":"GR","s":"p","x":10,"y":0.001},{"c":"GR","s":"p","x":11,"y":-0.0005},{"c":"GR","s":"p","x":13,"y":0.001},{"c":"GR","s":"p","x":14,"y":0},{"c":"GR","s":"p","x":15,"y":0.0018},{"c":"GR","s":"p","x":17,"y":-0.0005},{"c":"GR","s":"p","x":19,"y":0.0005},{"c":"GR","s":"p","x":21,"y":-0.0012},{"c":"GR","s":"p","x":23,"y":0.0012},{"c":"GR","s":"p","x":26,"y":-0.0003},{"c":"GR","s":"p","x":29,"y":0.001},{"c":"GR","s":"p","x":31,"y":-0.0005},{"c":"GR","s":"p","x":33,"y":0.0025},{"c":"GR","s":"p","x":35,"y":0.0015},{"c":"GR","s":"p","x":37,"y":0.0035},{"c":"GR","s":"p","x":39,"y":0.0012},{"c":"GR","s":"p","x":41,"y":0.0018},{"c":"GR","s":"p","x":43,"y":-0.0005},{"c":"GR","s":"p","x":45,"y":0.001},{"c":"GR","s":"p","x":47,"y":0.002},{"c":"GR","s":"p","x":49,"y":0.004},{"c":"GR","s":"p","x":51,"y":0.0025},{"c":"GR","s":"p","x":53,"y":0.0045},{"c":"GR","s":"p","x":55,"y":0.003},{"c":"GR","s":"p","x":57,"y":0.0028},{"c":"GR","s":"p","x":59,"y":0.0012},{"c":"GR","s":"p","x":61,"y":0.0025},{"c":"GR","s":"p","x":64,"y":0.0045},{"c":"GR","s":"p","x":66,"y":0.0025},{"c":"GR","s":"p","x":68,"y":0.0015},{"c":"GR","s":"p","x":70,"y":0.0018},{"c":"GR","s":"p","x":72,"y":0.0012},{"c":"GR","s":"p","x":74,"y":0.0008},{"c":"GR","s":"p","x":76,"y":0.0008},{"c":"GR","s":"p","x":78,"y":0.0012},{"c":"GR","s":"p","x":80,"y":-0.0005},{"c":"GR","s":"p","x":82,"y":0.0005},{"c":"GR","s":"p","x":84,"y":0.0012},{"c":"GR","s":"p","x":86,"y":0.003},{"c":"GR","s":"p","x":89,"y":0.0035},{"c":"GR","s":"p","x":91,"y":0.0028},{"c":"GR","s":"p","x":93,"y":0.0035},{"c":"GR","s":"p","x":96,"y":0.002},{"c":"GR","s":"p","x":99,"y":0.001},
{"c":"IS","s":"i","x":3,"y":0.005},{"c":"IS","s":"i","x":4,"y":0.0058},{"c":"IS","s":"i","x":6,"y":0.0055},{"c":"IS","s":"i","x":8,"y":0.0059},{"c":"IS","s":"i","x":10,"y":0.005},{"c":"IS","s":"i","x":12,"y":0.0045},{"c":"IS","s":"i","x":14,"y":0.004},{"c":"IS","s":"i","x":15,"y":0.0042},{"c":"IS","s":"i","x":17,"y":0.0035},{"c":"IS","s":"i","x":20,"y":0.0033},{"c":"IS","s":"i","x":22,"y":0.0025},{"c":"IS","s":"i","x":23,"y":0.003},{"c":"IS","s":"i","x":25,"y":0.0044},{"c":"IS","s":"i","x":27,"y":0.004},{"c":"IS","s":"i","x":28,"y":0.0052},{"c":"IS","s":"i","x":30,"y":0.004},{"c":"IS","s":"i","x":31,"y":0.0035},{"c":"IS","s":"i","x":33,"y":0.0025},{"c":"IS","s":"i","x":35,"y":0.0015},{"c":"IS","s":"i","x":37,"y":0.0025},{"c":"IS","s":"i","x":38,"y":0.002},{"c":"IS","s":"i","x":40,"y":0.0033},{"c":"IS","s":"i","x":42,"y":0.0035},{"c":"IS","s":"i","x":45,"y":0.0035},{"c":"IS","s":"i","x":47,"y":0.0025},{"c":"IS","s":"i","x":49,"y":0.002},{"c":"IS","s":"i","x":51,"y":0.002},{"c":"IS","s":"i","x":53,"y":0.0025},{"c":"IS","s":"i","x":55,"y":0.003},{"c":"IS","s":"i","x":57,"y":0.0022},{"c":"IS","s":"i","x":58,"y":0.0012},{"c":"IS","s":"i","x":60,"y":0},{"c":"IS","s":"i","x":62,"y":-0.0002},{"c":"IS","s":"i","x":64,"y":0.0007},{"c":"IS","s":"i","x":65,"y":0.0004},{"c":"IS","s":"i","x":67,"y":0.0013},{"c":"IS","s":"i","x":69,"y":0.0018},{"c":"IS","s":"i","x":71,"y":0.0028},{"c":"IS","s":"i","x":72,"y":0.002},{"c":"IS","s":"i","x":74,"y":0.0025},{"c":"IS","s":"i","x":76,"y":0.0017},{"c":"IS","s":"i","x":78,"y":0.0022},{"c":"IS","s":"i","x":80,"y":0.0012},{"c":"IS","s":"i","x":81,"y":0.002},{"c":"IS","s":"i","x":83,"y":0.0008},{"c":"IS","s":"i","x":85,"y":0.0017},{"c":"IS","s":"i","x":87,"y":0.001},{"c":"IS","s":"i","x":89,"y":0.0022},{"c":"IS","s":"i","x":90,"y":0.0015},{"c":"IS","s":"i","x":92,"y":0.0028},{"c":"IS","s":"i","x":94,"y":0.0025},{"c":"IS","s":"i","x":97,"y":0.0032},{"c":"IS","s":"i","x":98,"y":0.0018},{"c":"IS","s":"i","x":99,"y":0.002},
{"c":"IS","s":"p","x":3,"y":0},{"c":"IS","s":"p","x":5,"y":-0.001},{"c":"IS","s":"p","x":7,"y":-0.0005},{"c":"IS","s":"p","x":9,"y":0},{"c":"IS","s":"p","x":11,"y":-0.0006},{"c":"IS","s":"p","x":13,"y":0},{"c":"IS","s":"p","x":15,"y":-0.0004},{"c":"IS","s":"p","x":17,"y":0.0005},{"c":"IS","s":"p","x":20,"y":0.0013},{"c":"IS","s":"p","x":22,"y":0.0022},{"c":"IS","s":"p","x":24,"y":0.0018},{"c":"IS","s":"p","x":26,"y":0.0023},{"c":"IS","s":"p","x":28,"y":0.0012},{"c":"IS","s":"p","x":30,"y":0.0016},{"c":"IS","s":"p","x":32,"y":0.0008},{"c":"IS","s":"p","x":35,"y":0.0015},{"c":"IS","s":"p","x":38,"y":0.0008},{"c":"IS","s":"p","x":40,"y":0.0012},{"c":"IS","s":"p","x":43,"y":0.0004},{"c":"IS","s":"p","x":46,"y":0},{"c":"IS","s":"p","x":50,"y":0},{"c":"IS","s":"p","x":55,"y":0.0001},{"c":"IS","s":"p","x":60,"y":0.0003},{"c":"IS","s":"p","x":65,"y":0.0004},{"c":"IS","s":"p","x":70,"y":0.0003},{"c":"IS","s":"p","x":75,"y":0.0002},{"c":"IS","s":"p","x":80,"y":0.0003},{"c":"IS","s":"p","x":85,"y":0},{"c":"IS","s":"p","x":90,"y":0},{"c":"IS","s":"p","x":94,"y":-0.0004},{"c":"IS","s":"p","x":99,"y":-0.0005},
{"c":"IE","s":"i","x":3,"y":-0.0007},{"c":"IE","s":"i","x":5,"y":-0.0003},{"c":"IE","s":"i","x":8,"y":0},{"c":"IE","s":"i","x":10,"y":0.0003},{"c":"IE","s":"i","x":12,"y":0},{"c":"IE","s":"i","x":14,"y":0.0005},{"c":"IE","s":"i","x":16,"y":0.001},{"c":"IE","s":"i","x":18,"y":0.0015},{"c":"IE","s":"i","x":20,"y":0.0022},{"c":"IE","s":"i","x":22,"y":0.0015},{"c":"IE","s":"i","x":25,"y":0.0015},{"c":"IE","s":"i","x":27,"y":0.0003},{"c":"IE","s":"i","x":30,"y":0.0015},{"c":"IE","s":"i","x":33,"y":0.0025},{"c":"IE","s":"i","x":35,"y":0.0023},{"c":"IE","s":"i","x":37,"y":0.002},{"c":"IE","s":"i","x":40,"y":0.0032},{"c":"IE","s":"i","x":42,"y":0.002},{"c":"IE","s":"i","x":44,"y":0.0025},{"c":"IE","s":"i","x":46,"y":0.0015},{"c":"IE","s":"i","x":48,"y":0.0023},{"c":"IE","s":"i","x":50,"y":0.0012},{"c":"IE","s":"i","x":52,"y":0.0018},{"c":"IE","s":"i","x":55,"y":0.0028},{"c":"IE","s":"i","x":57,"y":0.0012},{"c":"IE","s":"i","x":60,"y":0.0015},{"c":"IE","s":"i","x":62,"y":0},{"c":"IE","s":"i","x":64,"y":0.001},{"c":"IE","s":"i","x":66,"y":0},{"c":"IE","s":"i","x":68,"y":0.0015},{"c":"IE","s":"i","x":70,"y":0.0035},{"c":"IE","s":"i","x":72,"y":0.004},{"c":"IE","s":"i","x":74,"y":0.0028},{"c":"IE","s":"i","x":76,"y":0.0018},{"c":"IE","s":"i","x":78,"y":0.001},{"c":"IE","s":"i","x":80,"y":0.0025},{"c":"IE","s":"i","x":82,"y":0.004},{"c":"IE","s":"i","x":84,"y":0.005},{"c":"IE","s":"i","x":86,"y":0.0045},{"c":"IE","s":"i","x":87,"y":0.0035},{"c":"IE","s":"i","x":89,"y":0.005},{"c":"IE","s":"i","x":91,"y":0.0042},{"c":"IE","s":"i","x":93,"y":0.0045},{"c":"IE","s":"i","x":95,"y":0.006},{"c":"IE","s":"i","x":97,"y":0.0052},{"c":"IE","s":"i","x":99,"y":0.0042},
{"c":"IE","s":"p","x":3,"y":-0.001},{"c":"IE","s":"p","x":5,"y":0},{"c":"IE","s":"p","x":8,"y":0.0005},{"c":"IE","s":"p","x":10,"y":0.0003},{"c":"IE","s":"p","x":13,"y":0.0008},{"c":"IE","s":"p","x":16,"y":0.001},{"c":"IE","s":"p","x":18,"y":0.0015},{"c":"IE","s":"p","x":21,"y":0.0018},{"c":"IE","s":"p","x":24,"y":0.0013},{"c":"IE","s":"p","x":27,"y":0.002},{"c":"IE","s":"p","x":29,"y":0.0032},{"c":"IE","s":"p","x":31,"y":0.002},{"c":"IE","s":"p","x":33,"y":0.0025},{"c":"IE","s":"p","x":35,"y":0.0025},{"c":"IE","s":"p","x":38,"y":0.0015},{"c":"IE","s":"p","x":40,"y":0.0012},{"c":"IE","s":"p","x":42,"y":0.0018},{"c":"IE","s":"p","x":44,"y":0.0022},{"c":"IE","s":"p","x":46,"y":0.0008},{"c":"IE","s":"p","x":48,"y":0.0012},{"c":"IE","s":"p","x":50,"y":0.0015},{"c":"IE","s":"p","x":53,"y":0.0018},{"c":"IE","s":"p","x":55,"y":0.0008},{"c":"IE","s":"p","x":57,"y":0.0015},{"c":"IE","s":"p","x":60,"y":0},{"c":"IE","s":"p","x":62,"y":0.0012},{"c":"IE","s":"p","x":64,"y":0.0015},{"c":"IE","s":"p","x":67,"y":0.0012},{"c":"IE","s":"p","x":70,"y":0.0008},{"c":"IE","s":"p","x":72,"y":0.0015},{"c":"IE","s":"p","x":74,"y":0},{"c":"IE","s":"p","x":76,"y":-0.0005},{"c":"IE","s":"p","x":78,"y":-0.0002},{"c":"IE","s":"p","x":80,"y":0.0008},{"c":"IE","s":"p","x":82,"y":0.0015},{"c":"IE","s":"p","x":84,"y":0.002},{"c":"IE","s":"p","x":86,"y":0.0012},{"c":"IE","s":"p","x":88,"y":0.001},{"c":"IE","s":"p","x":90,"y":0},{"c":"IE","s":"p","x":92,"y":0.001},{"c":"IE","s":"p","x":94,"y":0.0002},{"c":"IE","s":"p","x":96,"y":0.0012},{"c":"IE","s":"p","x":98,"y":0.0027},{"c":"IE","s":"p","x":99,"y":0.0005},
{"c":"IL","s":"i","x":2,"y":0},{"c":"IL","s":"i","x":10,"y":0.0001},{"c":"IL","s":"i","x":20,"y":0.0003},{"c":"IL","s":"i","x":25,"y":0.0008},{"c":"IL","s":"i","x":30,"y":0.0012},{"c":"IL","s":"i","x":33,"y":0.0013},{"c":"IL","s":"i","x":36,"y":0.0008},{"c":"IL","s":"i","x":39,"y":0.001},{"c":"IL","s":"i","x":42,"y":0.0004},{"c":"IL","s":"i","x":45,"y":0.0003},{"c":"IL","s":"i","x":48,"y":0.0007},{"c":"IL","s":"i","x":50,"y":0.001},{"c":"IL","s":"i","x":54,"y":0.0017},{"c":"IL","s":"i","x":57.5,"y":0.0012},{"c":"IL","s":"i","x":61,"y":0.0016},{"c":"IL","s":"i","x":65,"y":0.0021},{"c":"IL","s":"i","x":68.6,"y":0.0021},{"c":"IL","s":"i","x":72,"y":0.0018},{"c":"IL","s":"i","x":76,"y":0.0029},{"c":"IL","s":"i","x":78.7,"y":0.0037},{"c":"IL","s":"i","x":81.5,"y":0.0034},{"c":"IL","s":"i","x":85,"y":0.0037},{"c":"IL","s":"i","x":87,"y":0.0036},{"c":"IL","s":"i","x":89.8,"y":0.005},{"c":"IL","s":"i","x":92.6,"y":0.0073},{"c":"IL","s":"i","x":94.4,"y":0.0069},{"c":"IL","s":"i","x":96.3,"y":0.0064},{"c":"IL","s":"i","x":99,"y":0.007},
{"c":"IL","s":"p","x":3,"y":-0.0055},{"c":"IL","s":"p","x":4,"y":-0.003},{"c":"IL","s":"p","x":6,"y":-0.0015},{"c":"IL","s":"p","x":8,"y":-0.0017},{"c":"IL","s":"p","x":9,"y":0},{"c":"IL","s":"p","x":11,"y":-0.0008},{"c":"IL","s":"p","x":13,"y":-0.0005},{"c":"IL","s":"p","x":15,"y":-0.0008},{"c":"IL","s":"p","x":17,"y":0},{"c":"IL","s":"p","x":20,"y":0},{"c":"IL","s":"p","x":23,"y":0.0003},{"c":"IL","s":"p","x":26,"y":0.0005},{"c":"IL","s":"p","x":30,"y":0.0012},{"c":"IL","s":"p","x":33,"y":0.0014},{"c":"IL","s":"p","x":36,"y":0.0007},{"c":"IL","s":"p","x":38,"y":0},{"c":"IL","s":"p","x":41,"y":0.0003},{"c":"IL","s":"p","x":44,"y":0},{"c":"IL","s":"p","x":47,"y":0.0003},{"c":"IL","s":"p","x":50,"y":-0.0003},{"c":"IL","s":"p","x":53,"y":0},{"c":"IL","s":"p","x":56,"y":0.0003},{"c":"IL","s":"p","x":59,"y":0.0008},{"c":"IL","s":"p","x":62,"y":0.0005},{"c":"IL","s":"p","x":65,"y":0.0007},{"c":"IL","s":"p","x":68,"y":0.0003},{"c":"IL","s":"p","x":71,"y":0.0005},{"c":"IL","s":"p","x":74,"y":0.0005},{"c":"IL","s":"p","x":77,"y":0.0003},{"c":"IL","s":"p","x":80,"y":0.0008},{"c":"IL","s":"p","x":83,"y":0.0005},{"c":"IL","s":"p","x":85,"y":0.0002},{"c":"IL","s":"p","x":88,"y":0.0012},{"c":"IL","s":"p","x":90,"y":0.0015},{"c":"IL","s":"p","x":92,"y":0.0022},{"c":"IL","s":"p","x":94,"y":0.0022},{"c":"IL","s":"p","x":97,"y":0.0016},{"c":"IL","s":"p","x":99,"y":0.0014},
{"c":"IT","s":"i","x":3,"y":-0.0022},{"c":"IT","s":"i","x":5,"y":-0.001},{"c":"IT","s":"i","x":6,"y":0},{"c":"IT","s":"i","x":8,"y":0.0015},{"c":"IT","s":"i","x":10,"y":0.0025},{"c":"IT","s":"i","x":11,"y":0.0028},{"c":"IT","s":"i","x":13,"y":0.0022},{"c":"IT","s":"i","x":15,"y":0.002},{"c":"IT","s":"i","x":17,"y":0.0027},{"c":"IT","s":"i","x":19,"y":0.0025},{"c":"IT","s":"i","x":21,"y":0.0018},{"c":"IT","s":"i","x":23,"y":0.0015},{"c":"IT","s":"i","x":24,"y":0.0022},{"c":"IT","s":"i","x":26,"y":0.0028},{"c":"IT","s":"i","x":28,"y":0.0022},{"c":"IT","s":"i","x":30,"y":0.003},{"c":"IT","s":"i","x":33,"y":0.0032},{"c":"IT","s":"i","x":35,"y":0.0025},{"c":"IT","s":"i","x":37,"y":0.0013},{"c":"IT","s":"i","x":39,"y":0.001},{"c":"IT","s":"i","x":41,"y":0.0012},{"c":"IT","s":"i","x":43,"y":0.0015},{"c":"IT","s":"i","x":45,"y":0.002},{"c":"IT","s":"i","x":47,"y":0.0022},{"c":"IT","s":"i","x":49,"y":0.0018},{"c":"IT","s":"i","x":51,"y":0.0022},{"c":"IT","s":"i","x":53,"y":0.0025},{"c":"IT","s":"i","x":55,"y":0.0028},{"c":"IT","s":"i","x":57,"y":0.0022},{"c":"IT","s":"i","x":59,"y":0.0018},{"c":"IT","s":"i","x":61,"y":0.0012},{"c":"IT","s":"i","x":63,"y":0.0008},{"c":"IT","s":"i","x":65,"y":0.0012},{"c":"IT","s":"i","x":67,"y":0.0018},{"c":"IT","s":"i","x":69,"y":0.0012},{"c":"IT","s":"i","x":71,"y":0.0015},{"c":"IT","s":"i","x":73,"y":0.0018},{"c":"IT","s":"i","x":75,"y":0.0022},{"c":"IT","s":"i","x":77,"y":0.0025},{"c":"IT","s":"i","x":79,"y":0.0022},{"c":"IT","s":"i","x":81,"y":0.0022},{"c":"IT","s":"i","x":83,"y":0.0015},{"c":"IT","s":"i","x":85,"y":0.0012},{"c":"IT","s":"i","x":86,"y":0.001},{"c":"IT","s":"i","x":87,"y":0.002},{"c":"IT","s":"i","x":90,"y":0.0045},{"c":"IT","s":"i","x":92,"y":0.007},{"c":"IT","s":"i","x":93,"y":0.0075},{"c":"IT","s":"i","x":95,"y":0.006},{"c":"IT","s":"i","x":97,"y":0.005},{"c":"IT","s":"i","x":98,"y":0.0045},{"c":"IT","s":"i","x":99,"y":0.0035},
{"c":"IT","s":"p","x":3,"y":-0.001},{"c":"IT","s":"p","x":5,"y":0},{"c":"IT","s":"p","x":7,"y":0.0025},{"c":"IT","s":"p","x":9,"y":0.006},{"c":"IT","s":"p","x":10,"y":0.005},{"c":"IT","s":"p","x":12,"y":0.008},{"c":"IT","s":"p","x":14,"y":0.009},{"c":"IT","s":"p","x":15,"y":0.0085},{"c":"IT","s":"p","x":17,"y":0.007},{"c":"IT","s":"p","x":18,"y":0.0075},{"c":"IT","s":"p","x":19,"y":0.0045},{"c":"IT","s":"p","x":21,"y":0.001},{"c":"IT","s":"p","x":23,"y":-0.0015},{"c":"IT","s":"p","x":25,"y":-0.002},{"c":"IT","s":"p","x":28,"y":-0.0035},{"c":"IT","s":"p","x":29,"y":-0.002},{"c":"IT","s":"p","x":31,"y":0},{"c":"IT","s":"p","x":33,"y":0.0025},{"c":"IT","s":"p","x":35,"y":0.005},{"c":"IT","s":"p","x":36.5,"y":0.0045},{"c":"IT","s":"p","x":38,"y":0.002},{"c":"IT","s":"p","x":40,"y":-0.001},{"c":"IT","s":"p","x":42,"y":-0.0025},{"c":"IT","s":"p","x":44,"y":-0.001},{"c":"IT","s":"p","x":46,"y":0.0005},{"c":"IT","s":"p","x":48.5,"y":0.001},{"c":"IT","s":"p","x":51,"y":0.0015},{"c":"IT","s":"p","x":54,"y":0.0025},{"c":"IT","s":"p","x":57,"y":0.0035},{"c":"IT","s":"p","x":60,"y":0.0037},{"c":"IT","s":"p","x":61.5,"y":0.002},{"c":"IT","s":"p","x":63,"y":0.001},{"c":"IT","s":"p","x":66,"y":0.0015},{"c":"IT","s":"p","x":69,"y":0.0005},{"c":"IT","s":"p","x":72,"y":0.0005},{"c":"IT","s":"p","x":74,"y":0},{"c":"IT","s":"p","x":76,"y":-0.0005},{"c":"IT","s":"p","x":78,"y":0},{"c":"IT","s":"p","x":81,"y":0},{"c":"IT","s":"p","x":84,"y":0.0012},{"c":"IT","s":"p","x":86.5,"y":0.0008},{"c":"IT","s":"p","x":89,"y":0.0005},{"c":"IT","s":"p","x":92,"y":0.0003},{"c":"IT","s":"p","x":95,"y":0.0001},{"c":"IT","s":"p","x":97,"y":-0.0003},{"c":"IT","s":"p","x":99,"y":0},
{"c":"LU","s":"i","x":3,"y":0.0008},{"c":"LU","s":"i","x":5,"y":-0.001},{"c":"LU","s":"i","x":7,"y":-0.0012},{"c":"LU","s":"i","x":8,"y":-0.002},{"c":"LU","s":"i","x":10,"y":-0.0028},{"c":"LU","s":"i","x":12,"y":-0.0022},{"c":"LU","s":"i","x":14,"y":-0.001},{"c":"LU","s":"i","x":16,"y":0},{"c":"LU","s":"i","x":18,"y":0.0008},{"c":"LU","s":"i","x":19,"y":0.0012},{"c":"LU","s":"i","x":21,"y":0.0012},{"c":"LU","s":"i","x":23,"y":0.0008},{"c":"LU","s":"i","x":25,"y":0.001},{"c":"LU","s":"i","x":27,"y":0.0012},{"c":"LU","s":"i","x":29,"y":0.0005},{"c":"LU","s":"i","x":31,"y":0.0015},{"c":"LU","s":"i","x":33,"y":0.002},{"c":"LU","s":"i","x":35,"y":0.0018},{"c":"LU","s":"i","x":37,"y":0.0025},{"c":"LU","s":"i","x":39,"y":0.002},{"c":"LU","s":"i","x":41,"y":0.0008},{"c":"LU","s":"i","x":42,"y":0},{"c":"LU","s":"i","x":44,"y":0.002},{"c":"LU","s":"i","x":46,"y":0.0025},{"c":"LU","s":"i","x":48,"y":0.0035},{"c":"LU","s":"i","x":50,"y":0.002},{"c":"LU","s":"i","x":52,"y":0.0027},{"c":"LU","s":"i","x":54,"y":0.0015},{"c":"LU","s":"i","x":56,"y":0.0025},{"c":"LU","s":"i","x":58,"y":0.0015},{"c":"LU","s":"i","x":60,"y":0.0008},{"c":"LU","s":"i","x":62,"y":0.0008},{"c":"LU","s":"i","x":64,"y":0.0005},{"c":"LU","s":"i","x":66,"y":0.001},{"c":"LU","s":"i","x":68,"y":0.0015},{"c":"LU","s":"i","x":70,"y":0.002},{"c":"LU","s":"i","x":72,"y":0.0018},{"c":"LU","s":"i","x":74,"y":0.0028},{"c":"LU","s":"i","x":76,"y":0.0015},{"c":"LU","s":"i","x":78,"y":0.0008},{"c":"LU","s":"i","x":80,"y":0.0012},{"c":"LU","s":"i","x":82,"y":0.0025},{"c":"LU","s":"i","x":84,"y":0.004},{"c":"LU","s":"i","x":86,"y":0.0048},{"c":"LU","s":"i","x":88,"y":0.0045},{"c":"LU","s":"i","x":90,"y":0.0045},{"c":"LU","s":"i","x":92,"y":0.0035},{"c":"LU","s":"i","x":94,"y":0.003},{"c":"LU","s":"i","x":96,"y":0.0018},{"c":"LU","s":"i","x":97,"y":0.0028},{"c":"LU","s":"i","x":98,"y":0.0015},{"c":"LU","s":"i","x":99,"y":0.0008},
{"c":"LU","s":"p","x":3,"y":0.004},{"c":"LU","s":"p","x":4,"y":0.0045},{"c":"LU","s":"p","x":5,"y":0.003},{"c":"LU","s":"p","x":6,"y":0.0038},{"c":"LU","s":"p","x":7,"y":0.0025},{"c":"LU","s":"p","x":8,"y":0.003},{"c":"LU","s":"p","x":9,"y":0.002},{"c":"LU","s":"p","x":10,"y":0.0025},{"c":"LU","s":"p","x":12,"y":0.001},{"c":"LU","s":"p","x":13,"y":0},{"c":"LU","s":"p","x":14,"y":0.0015},{"c":"LU","s":"p","x":16,"y":0.0005},{"c":"LU","s":"p","x":18,"y":0.001},{"c":"LU","s":"p","x":19,"y":0},{"c":"LU","s":"p","x":21,"y":0.0013},{"c":"LU","s":"p","x":23,"y":0.0016},{"c":"LU","s":"p","x":25,"y":0.001},{"c":"LU","s":"p","x":27,"y":0.0005},{"c":"LU","s":"p","x":29,"y":0.0015},{"c":"LU","s":"p","x":31,"y":-0.0015},{"c":"LU","s":"p","x":33,"y":-0.0005},{"c":"LU","s":"p","x":35,"y":0},{"c":"LU","s":"p","x":37,"y":0.0022},{"c":"LU","s":"p","x":39,"y":0.0025},{"c":"LU","s":"p","x":41,"y":0.0018},{"c":"LU","s":"p","x":43,"y":0.0015},{"c":"LU","s":"p","x":45,"y":0.0028},{"c":"LU","s":"p","x":47,"y":0.0015},{"c":"LU","s":"p","x":49,"y":0.0015},{"c":"LU","s":"p","x":51,"y":0},{"c":"LU","s":"p","x":53,"y":0.0015},{"c":"LU","s":"p","x":55,"y":0.0003},{"c":"LU","s":"p","x":57,"y":0.001},{"c":"LU","s":"p","x":59,"y":0},{"c":"LU","s":"p","x":61,"y":-0.0012},{"c":"LU","s":"p","x":63,"y":0},{"c":"LU","s":"p","x":65,"y":0.0008},{"c":"LU","s":"p","x":67,"y":0.0012},{"c":"LU","s":"p","x":69,"y":0.0025},{"c":"LU","s":"p","x":70,"y":0.0032},{"c":"LU","s":"p","x":72,"y":0.0025},{"c":"LU","s":"p","x":74,"y":0.0015},{"c":"LU","s":"p","x":76,"y":0},{"c":"LU","s":"p","x":78,"y":0.0005},{"c":"LU","s":"p","x":80,"y":0},{"c":"LU","s":"p","x":82,"y":0.0005},{"c":"LU","s":"p","x":84,"y":0.0003},{"c":"LU","s":"p","x":86,"y":0},{"c":"LU","s":"p","x":88,"y":0.0002},{"c":"LU","s":"p","x":90,"y":-0.0003},{"c":"LU","s":"p","x":92,"y":-0.0002},{"c":"LU","s":"p","x":94,"y":-0.0005},{"c":"LU","s":"p","x":96,"y":-0.0012},{"c":"LU","s":"p","x":98,"y":-0.0015},{"c":"LU","s":"p","x":99,"y":-0.0013},
{"c":"NO","s":"i","x":3,"y":0.0032},{"c":"NO","s":"i","x":5,"y":0.0037},{"c":"NO","s":"i","x":7,"y":0.0045},{"c":"NO","s":"i","x":9,"y":0.0065},{"c":"NO","s":"i","x":12,"y":0.006},{"c":"NO","s":"i","x":15,"y":0.005},{"c":"NO","s":"i","x":18,"y":0.004},{"c":"NO","s":"i","x":21,"y":0.0033},{"c":"NO","s":"i","x":25,"y":0.0025},{"c":"NO","s":"i","x":28,"y":0.002},{"c":"NO","s":"i","x":32,"y":0.0016},{"c":"NO","s":"i","x":36,"y":0.0013},{"c":"NO","s":"i","x":40,"y":0.0011},{"c":"NO","s":"i","x":45,"y":0.0009},{"c":"NO","s":"i","x":50,"y":0.0009},{"c":"NO","s":"i","x":55,"y":0.0009},{"c":"NO","s":"i","x":60,"y":0.0009},{"c":"NO","s":"i","x":65,"y":0.001},{"c":"NO","s":"i","x":70,"y":0.0009},{"c":"NO","s":"i","x":75,"y":0.0013},{"c":"NO","s":"i","x":80,"y":0.0016},{"c":"NO","s":"i","x":85,"y":0.002},{"c":"NO","s":"i","x":89,"y":0.0028},{"c":"NO","s":"i","x":92,"y":0.0045},{"c":"NO","s":"i","x":95,"y":0.004},{"c":"NO","s":"i","x":97,"y":0.004},{"c":"NO","s":"i","x":99,"y":0.0035},
{"c":"NO","s":"p","x":3,"y":-0.0042},{"c":"NO","s":"p","x":4,"y":-0.0045},{"c":"NO","s":"p","x":5,"y":-0.004},{"c":"NO","s":"p","x":7,"y":-0.002},{"c":"NO","s":"p","x":8,"y":-0.001},{"c":"NO","s":"p","x":9,"y":0},{"c":"NO","s":"p","x":11,"y":0.0015},{"c":"NO","s":"p","x":12,"y":0.0025},{"c":"NO","s":"p","x":14,"y":0.0025},{"c":"NO","s":"p","x":17,"y":0.0023},{"c":"NO","s":"p","x":20,"y":0.0025},{"c":"NO","s":"p","x":23,"y":0.0028},{"c":"NO","s":"p","x":26,"y":0.0028},{"c":"NO","s":"p","x":29,"y":0.0025},{"c":"NO","s":"p","x":32,"y":0.0023},{"c":"NO","s":"p","x":34,"y":0.0026},{"c":"NO","s":"p","x":37,"y":0.0022},{"c":"NO","s":"p","x":40,"y":0.0016},{"c":"NO","s":"p","x":44,"y":0.0014},{"c":"NO","s":"p","x":48,"y":0.0012},{"c":"NO","s":"p","x":52,"y":0.001},{"c":"NO","s":"p","x":56,"y":0.0008},{"c":"NO","s":"p","x":60,"y":0.0008},{"c":"NO","s":"p","x":64,"y":0.0007},{"c":"NO","s":"p","x":68,"y":0.0006},{"c":"NO","s":"p","x":72,"y":0.0005},{"c":"NO","s":"p","x":76,"y":0.0004},{"c":"NO","s":"p","x":80,"y":0.0004},{"c":"NO","s":"p","x":84,"y":0.0003},{"c":"NO","s":"p","x":88,"y":0.0001},{"c":"NO","s":"p","x":92,"y":0},{"c":"NO","s":"p","x":96,"y":-0.0002},{"c":"NO","s":"p","x":99,"y":-0.0005},
{"c":"SK","s":"i","x":3,"y":-0.0002},{"c":"SK","s":"i","x":5,"y":0},{"c":"SK","s":"i","x":10,"y":0.0003},{"c":"SK","s":"i","x":15,"y":0.0003},{"c":"SK","s":"i","x":20,"y":0.0004},{"c":"SK","s":"i","x":25,"y":0.0003},{"c":"SK","s":"i","x":30,"y":0.0006},{"c":"SK","s":"i","x":35,"y":0.0004},{"c":"SK","s":"i","x":40,"y":0.0002},{"c":"SK","s":"i","x":45,"y":0},{"c":"SK","s":"i","x":50,"y":0.0003},{"c":"SK","s":"i","x":55,"y":0.0003},{"c":"SK","s":"i","x":60,"y":0},{"c":"SK","s":"i","x":65,"y":0.0003},{"c":"SK","s":"i","x":70,"y":0},{"c":"SK","s":"i","x":75,"y":0.0002},{"c":"SK","s":"i","x":78,"y":0},{"c":"SK","s":"i","x":82,"y":0.0003},{"c":"SK","s":"i","x":86,"y":0.0005},{"c":"SK","s":"i","x":90,"y":0.0008},{"c":"SK","s":"i","x":94,"y":0.0009},{"c":"SK","s":"i","x":97,"y":0.0007},{"c":"SK","s":"i","x":99,"y":0.0008},
{"c":"SK","s":"p","x":3,"y":0.007},{"c":"SK","s":"p","x":4,"y":0.0075},{"c":"SK","s":"p","x":5,"y":0.0082},{"c":"SK","s":"p","x":7,"y":0.006},{"c":"SK","s":"p","x":9,"y":0.004},{"c":"SK","s":"p","x":11,"y":0.0025},{"c":"SK","s":"p","x":13,"y":0.0012},{"c":"SK","s":"p","x":15,"y":0.0005},{"c":"SK","s":"p","x":16,"y":0.002},{"c":"SK","s":"p","x":18,"y":0.004},{"c":"SK","s":"p","x":19,"y":0.0035},{"c":"SK","s":"p","x":21,"y":0.006},{"c":"SK","s":"p","x":23,"y":0.01},{"c":"SK","s":"p","x":24,"y":0.0098},{"c":"SK","s":"p","x":26,"y":0.0118},{"c":"SK","s":"p","x":28,"y":0.01},{"c":"SK","s":"p","x":30,"y":0.008},{"c":"SK","s":"p","x":32,"y":0.0065},{"c":"SK","s":"p","x":34,"y":0.0058},{"c":"SK","s":"p","x":36,"y":0.006},{"c":"SK","s":"p","x":38,"y":0.0055},{"c":"SK","s":"p","x":40,"y":0.004},{"c":"SK","s":"p","x":42,"y":0.0015},{"c":"SK","s":"p","x":44,"y":0.0003},{"c":"SK","s":"p","x":46,"y":0.0003},{"c":"SK","s":"p","x":47,"y":0.001},{"c":"SK","s":"p","x":49,"y":0.0025},{"c":"SK","s":"p","x":51,"y":0.0027},{"c":"SK","s":"p","x":53,"y":0.002},{"c":"SK","s":"p","x":55,"y":0.0005},{"c":"SK","s":"p","x":57,"y":0},{"c":"SK","s":"p","x":59,"y":-0.0003},{"c":"SK","s":"p","x":61,"y":0.0005},{"c":"SK","s":"p","x":63,"y":0.0015},{"c":"SK","s":"p","x":65,"y":0.0017},{"c":"SK","s":"p","x":67,"y":0.0012},{"c":"SK","s":"p","x":69,"y":0.0019},{"c":"SK","s":"p","x":71,"y":0},{"c":"SK","s":"p","x":73,"y":0.0005},{"c":"SK","s":"p","x":75,"y":-0.0005},{"c":"SK","s":"p","x":77,"y":-0.0009},{"c":"SK","s":"p","x":79,"y":0},{"c":"SK","s":"p","x":81,"y":0.0008},{"c":"SK","s":"p","x":83,"y":0.0005},{"c":"SK","s":"p","x":85,"y":0.0012},{"c":"SK","s":"p","x":87,"y":0.0022},{"c":"SK","s":"p","x":90,"y":0.0018},{"c":"SK","s":"p","x":92,"y":0.0015},{"c":"SK","s":"p","x":94,"y":0.0005},{"c":"SK","s":"p","x":96,"y":0.0001},{"c":"SK","s":"p","x":98,"y":0.0008},{"c":"SK","s":"p","x":99,"y":0.0004},
{"c":"ES","s":"i","x":2,"y":0.001},{"c":"ES","s":"i","x":4,"y":0.0012},{"c":"ES","s":"i","x":6,"y":0},{"c":"ES","s":"i","x":8,"y":-0.0008},{"c":"ES","s":"i","x":10,"y":-0.0012},{"c":"ES","s":"i","x":12,"y":-0.0018},{"c":"ES","s":"i","x":13,"y":-0.001},{"c":"ES","s":"i","x":15,"y":-0.0003},{"c":"ES","s":"i","x":16,"y":0},{"c":"ES","s":"i","x":18,"y":0.001},{"c":"ES","s":"i","x":20,"y":0.001},{"c":"ES","s":"i","x":22,"y":0.0008},{"c":"ES","s":"i","x":24,"y":0.0013},{"c":"ES","s":"i","x":27,"y":0.0016},{"c":"ES","s":"i","x":29,"y":0.0013},{"c":"ES","s":"i","x":31.6,"y":0.0017},{"c":"ES","s":"i","x":35.3,"y":0.0012},{"c":"ES","s":"i","x":39,"y":0.0017},{"c":"ES","s":"i","x":42.7,"y":0.002},{"c":"ES","s":"i","x":46.4,"y":0.0019},{"c":"ES","s":"i","x":50,"y":0.0015},{"c":"ES","s":"i","x":53.8,"y":0.0013},{"c":"ES","s":"i","x":57.5,"y":0.0009},{"c":"ES","s":"i","x":61,"y":0.0013},{"c":"ES","s":"i","x":65,"y":0.0016},{"c":"ES","s":"i","x":68.6,"y":0.0017},{"c":"ES","s":"i","x":72,"y":0.0017},{"c":"ES","s":"i","x":76,"y":0.002},{"c":"ES","s":"i","x":79.7,"y":0.0022},{"c":"ES","s":"i","x":83.4,"y":0.0027},{"c":"ES","s":"i","x":87,"y":0.0032},{"c":"ES","s":"i","x":89.8,"y":0.0035},{"c":"ES","s":"i","x":91.7,"y":0.0044},{"c":"ES","s":"i","x":93.5,"y":0.0038},{"c":"ES","s":"i","x":95.3,"y":0.0035},{"c":"ES","s":"i","x":97.2,"y":0.0043},{"c":"ES","s":"i","x":99,"y":0.0035},
{"c":"ES","s":"p","x":2,"y":0.0018},{"c":"ES","s":"p","x":4,"y":0.004},{"c":"ES","s":"p","x":5,"y":0.002},{"c":"ES","s":"p","x":6,"y":0.0005},{"c":"ES","s":"p","x":7,"y":0.0015},{"c":"ES","s":"p","x":9,"y":-0.0005},{"c":"ES","s":"p","x":11,"y":-0.0015},{"c":"ES","s":"p","x":12,"y":-0.0025},{"c":"ES","s":"p","x":13,"y":-0.001},{"c":"ES","s":"p","x":15,"y":0},{"c":"ES","s":"p","x":16,"y":0},{"c":"ES","s":"p","x":17,"y":0.0008},{"c":"ES","s":"p","x":19,"y":0.0025},{"c":"ES","s":"p","x":21,"y":0.0035},{"c":"ES","s":"p","x":22,"y":0.004},{"c":"ES","s":"p","x":24,"y":0.003},{"c":"ES","s":"p","x":25,"y":0.0025},{"c":"ES","s":"p","x":27,"y":0.0015},{"c":"ES","s":"p","x":29,"y":0.003},{"c":"ES","s":"p","x":31,"y":0.0035},{"c":"ES","s":"p","x":33,"y":0.0038},{"c":"ES","s":"p","x":35,"y":0.0035},{"c":"ES","s":"p","x":36,"y":0.0039},{"c":"ES","s":"p","x":38,"y":0.0015},{"c":"ES","s":"p","x":39,"y":-0.0002},{"c":"ES","s":"p","x":40,"y":0.0005},{"c":"ES","s":"p","x":41,"y":0},{"c":"ES","s":"p","x":43,"y":0.0015},{"c":"ES","s":"p","x":45,"y":0.003},{"c":"ES","s":"p","x":48,"y":0.0028},{"c":"ES","s":"p","x":50,"y":0.002},{"c":"ES","s":"p","x":52,"y":0.0012},{"c":"ES","s":"p","x":56.6,"y":0.0014},{"c":"ES","s":"p","x":61,"y":0},{"c":"ES","s":"p","x":64,"y":0.0014},{"c":"ES","s":"p","x":67.5,"y":0.0019},{"c":"ES","s":"p","x":71.3,"y":0.0019},{"c":"ES","s":"p","x":74,"y":0.0007},{"c":"ES","s":"p","x":77.8,"y":0},{"c":"ES","s":"p","x":81.5,"y":0.0005},{"c":"ES","s":"p","x":84,"y":0.0004},{"c":"ES","s":"p","x":87,"y":-0.0006},{"c":"ES","s":"p","x":89.8,"y":-0.0019},{"c":"ES","s":"p","x":92.6,"y":-0.0035},{"c":"ES","s":"p","x":95.3,"y":-0.0036},{"c":"ES","s":"p","x":98,"y":-0.0042},{"c":"ES","s":"p","x":99,"y":-0.0043},
{"c":"SE","s":"i","x":3,"y":0.0005},{"c":"SE","s":"i","x":4.5,"y":0.004},{"c":"SE","s":"i","x":6,"y":0.0062},{"c":"SE","s":"i","x":8,"y":0.0065},{"c":"SE","s":"i","x":10,"y":0.0068},{"c":"SE","s":"i","x":11,"y":0.006},{"c":"SE","s":"i","x":13,"y":0.0045},{"c":"SE","s":"i","x":15,"y":0.0033},{"c":"SE","s":"i","x":17,"y":0.0022},{"c":"SE","s":"i","x":19,"y":0.0012},{"c":"SE","s":"i","x":21,"y":0.0003},{"c":"SE","s":"i","x":24,"y":-0.0008},{"c":"SE","s":"i","x":27,"y":-0.0015},{"c":"SE","s":"i","x":29,"y":-0.0015},{"c":"SE","s":"i","x":31,"y":-0.0012},{"c":"SE","s":"i","x":33,"y":-0.0009},{"c":"SE","s":"i","x":36,"y":-0.001},{"c":"SE","s":"i","x":39,"y":-0.0008},{"c":"SE","s":"i","x":41,"y":-0.001},{"c":"SE","s":"i","x":44,"y":-0.0004},{"c":"SE","s":"i","x":47,"y":-0.0003},{"c":"SE","s":"i","x":50,"y":0},{"c":"SE","s":"i","x":53,"y":-0.0001},{"c":"SE","s":"i","x":55,"y":0.0001},{"c":"SE","s":"i","x":58,"y":0.0008},{"c":"SE","s":"i","x":61,"y":0.0012},{"c":"SE","s":"i","x":64,"y":0.0015},{"c":"SE","s":"i","x":66,"y":0.0012},{"c":"SE","s":"i","x":68,"y":0.0003},{"c":"SE","s":"i","x":70,"y":0},{"c":"SE","s":"i","x":72,"y":0},{"c":"SE","s":"i","x":74,"y":0.0004},{"c":"SE","s":"i","x":77,"y":0.0008},{"c":"SE","s":"i","x":80,"y":0.0011},{"c":"SE","s":"i","x":83,"y":0.0015},{"c":"SE","s":"i","x":85,"y":0.002},{"c":"SE","s":"i","x":88,"y":0.003},{"c":"SE","s":"i","x":91,"y":0.0045},{"c":"SE","s":"i","x":93,"y":0.0055},{"c":"SE","s":"i","x":95,"y":0.005},{"c":"SE","s":"i","x":97,"y":0.0048},{"c":"SE","s":"i","x":99,"y":0.0046},
{"c":"SE","s":"p","x":3,"y":-0.001},{"c":"SE","s":"p","x":5,"y":-0.0012},{"c":"SE","s":"p","x":7,"y":-0.0008},{"c":"SE","s":"p","x":9,"y":0},{"c":"SE","s":"p","x":11,"y":0.0015},{"c":"SE","s":"p","x":13,"y":0.0028},{"c":"SE","s":"p","x":15,"y":0.0038},{"c":"SE","s":"p","x":17,"y":0.004},{"c":"SE","s":"p","x":20,"y":0.0035},{"c":"SE","s":"p","x":22,"y":0.0037},{"c":"SE","s":"p","x":25,"y":0.0045},{"c":"SE","s":"p","x":27,"y":0.005},{"c":"SE","s":"p","x":30,"y":0.0055},{"c":"SE","s":"p","x":33,"y":0.0053},{"c":"SE","s":"p","x":35,"y":0.0055},{"c":"SE","s":"p","x":37,"y":0.005},{"c":"SE","s":"p","x":40,"y":0.0052},{"c":"SE","s":"p","x":42,"y":0.0045},{"c":"SE","s":"p","x":45,"y":0.004},{"c":"SE","s":"p","x":48,"y":0.0033},{"c":"SE","s":"p","x":51,"y":0.0028},{"c":"SE","s":"p","x":54,"y":0.0022},{"c":"SE","s":"p","x":57,"y":0.0018},{"c":"SE","s":"p","x":60,"y":0.001},{"c":"SE","s":"p","x":63,"y":0.0008},{"c":"SE","s":"p","x":66,"y":0.0012},{"c":"SE","s":"p","x":68,"y":0.0015},{"c":"SE","s":"p","x":70,"y":0.0012},{"c":"SE","s":"p","x":73,"y":0.0008},{"c":"SE","s":"p","x":76,"y":0.001},{"c":"SE","s":"p","x":79,"y":0.0008},{"c":"SE","s":"p","x":82,"y":0.0006},{"c":"SE","s":"p","x":85,"y":0.0002},{"c":"SE","s":"p","x":88,"y":0},{"c":"SE","s":"p","x":91,"y":-0.0003},{"c":"SE","s":"p","x":94,"y":-0.0006},{"c":"SE","s":"p","x":97,"y":-0.0012},{"c":"SE","s":"p","x":99,"y":-0.0013},
{"c":"GB","s":"i","x":3,"y":-0.0007},{"c":"GB","s":"i","x":6,"y":-0.0005},{"c":"GB","s":"i","x":8,"y":-0.0004},{"c":"GB","s":"i","x":10,"y":0.0002},{"c":"GB","s":"i","x":12,"y":0.0005},{"c":"GB","s":"i","x":15,"y":0.0012},{"c":"GB","s":"i","x":18,"y":0.0015},{"c":"GB","s":"i","x":21,"y":0.002},{"c":"GB","s":"i","x":24,"y":0.0018},{"c":"GB","s":"i","x":27,"y":0.0022},{"c":"GB","s":"i","x":29,"y":0.002},{"c":"GB","s":"i","x":31,"y":0.0025},{"c":"GB","s":"i","x":34,"y":0.0022},{"c":"GB","s":"i","x":37,"y":0.0023},{"c":"GB","s":"i","x":40,"y":0.0025},{"c":"GB","s":"i","x":43,"y":0.0022},{"c":"GB","s":"i","x":46,"y":0.0025},{"c":"GB","s":"i","x":49,"y":0.0022},{"c":"GB","s":"i","x":52,"y":0.0018},{"c":"GB","s":"i","x":54,"y":0.0012},{"c":"GB","s":"i","x":56,"y":0.0005},{"c":"GB","s":"i","x":58,"y":0.0008},{"c":"GB","s":"i","x":60,"y":0.0015},{"c":"GB","s":"i","x":62,"y":0.0022},{"c":"GB","s":"i","x":64,"y":0.0018},{"c":"GB","s":"i","x":66,"y":0.0012},{"c":"GB","s":"i","x":68,"y":0.0005},{"c":"GB","s":"i","x":70,"y":0.0012},{"c":"GB","s":"i","x":72,"y":0.0015},{"c":"GB","s":"i","x":74,"y":0.0022},{"c":"GB","s":"i","x":76,"y":0.002},{"c":"GB","s":"i","x":78,"y":0.0025},{"c":"GB","s":"i","x":80,"y":0.0017},{"c":"GB","s":"i","x":82,"y":0.001},{"c":"GB","s":"i","x":85,"y":0.001},{"c":"GB","s":"i","x":88,"y":0.0015},{"c":"GB","s":"i","x":90,"y":0.0045},{"c":"GB","s":"i","x":92,"y":0.0055},{"c":"GB","s":"i","x":95,"y":0.0055},{"c":"GB","s":"i","x":97,"y":0.0052},{"c":"GB","s":"i","x":99,"y":0.0043},
{"c":"GB","s":"p","x":3,"y":0},{"c":"GB","s":"p","x":5,"y":-0.0002},{"c":"GB","s":"p","x":8,"y":0.0003},{"c":"GB","s":"p","x":11,"y":0.0008},{"c":"GB","s":"p","x":14,"y":0.0012},{"c":"GB","s":"p","x":17,"y":0.0018},{"c":"GB","s":"p","x":20,"y":0.0022},{"c":"GB","s":"p","x":23,"y":0.0018},{"c":"GB","s":"p","x":26,"y":0.0022},{"c":"GB","s":"p","x":29,"y":0.0023},{"c":"GB","s":"p","x":32,"y":0.002},{"c":"GB","s":"p","x":35,"y":0.0025},{"c":"GB","s":"p","x":36,"y":0.0028},{"c":"GB","s":"p","x":39,"y":0.0022},{"c":"GB","s":"p","x":42,"y":0.0021},{"c":"GB","s":"p","x":45,"y":0.0022},{"c":"GB","s":"p","x":48,"y":0.0025},{"c":"GB","s":"p","x":51,"y":0.0023},{"c":"GB","s":"p","x":54,"y":0.0018},{"c":"GB","s":"p","x":57,"y":0.0012},{"c":"GB","s":"p","x":60,"y":0.0015},{"c":"GB","s":"p","x":62,"y":0.0018},{"c":"GB","s":"p","x":64,"y":0.0012},{"c":"GB","s":"p","x":66,"y":0.0008},{"c":"GB","s":"p","x":68,"y":0.0012},{"c":"GB","s":"p","x":70,"y":0.0015},{"c":"GB","s":"p","x":72,"y":0.0018},{"c":"GB","s":"p","x":74,"y":0.0015},{"c":"GB","s":"p","x":76,"y":0.0015},{"c":"GB","s":"p","x":78,"y":0.0012},{"c":"GB","s":"p","x":80,"y":0.0012},{"c":"GB","s":"p","x":83,"y":0.0008},{"c":"GB","s":"p","x":86,"y":0.0005},{"c":"GB","s":"p","x":89,"y":0.0002},{"c":"GB","s":"p","x":92,"y":0},{"c":"GB","s":"p","x":95,"y":0},{"c":"GB","s":"p","x":97,"y":-0.0003},{"c":"GB","s":"p","x":99,"y":-0.0006}
]},
"transform":[{"lookup":"c","from":{"data":{"name":"names"},"key":"c","fields":["n"]}}],
"facet":{"field":"n","type":"nominal","title":"Percentile of gross income",
 "header":{"labels":false,"labelExpr":"''","labelFontSize":1,"labelPadding":0,"titleOrient":"bottom","titleFontSize":22.5,"titleFont":"Liberation Sans","titleFontWeight":"normal","titleColor":"#000","titlePadding":22}},
"columns":5,
"spacing":{"row":16.3,"column":16.7},
"spec":{
 "width":207,"height":139,
 "layer":[
  {"mark":{"type":"line","strokeWidth":1.2,"clip":true},
   "encoding":{
    "x":{"field":"x","type":"quantitative","scale":{"domain":[0,100],"nice":false},
      "axis":{"title":null,"values":[0,25,50,75,100],"grid":true,"gridDash":[1,4],"gridColor":"#aaaaaa","domainColor":"#999999","tickColor":"#999999","tickSize":5,"labelPadding":2,"labelFlush":false}},
    "y":{"field":"y","type":"quantitative","scale":{"domain":[-0.0067,0.0147],"nice":false,"zero":false},
      "axis":{"title":null,"values":[-0.005,0,0.005,0.01],"domain":false,"tickColor":"#999999","tickSize":4,"labelPadding":2,
        "labelExpr":"datum.value < 0 ? '-' + format(-datum.value, '.3f') : format(datum.value, '.3f')",
        "grid":true,
        "gridDash":{"condition":{"test":"datum.value === 0","value":[8,5]},"value":[1,4]},
        "gridColor":{"condition":{"test":"datum.value === 0","value":"#6e6e6e"},"value":"#aaaaaa"}}},
    "color":{"field":"s","type":"nominal","scale":{"domain":["i","p"],"range":["#454545","#9c9c9c"]},
      "legend":{"title":null,"orient":"none","legendX":197,"legendY":699,"direction":"horizontal","symbolType":"stroke","symbolStrokeWidth":2.5,"symbolSize":1764,
        "labelFontSize":22.5,"labelFont":"Liberation Sans","labelColor":"#000","labelLimit":0,"columnPadding":48,"labelOffset":16,
        "labelExpr":"datum.value === 'i' ? 'Slope of income tax rate' : 'Slope of payroll tax rate'"}}
   }},
  {"transform":[{"aggregate":[{"op":"count","as":"k"}],"groupby":["n"]},{"filter":{"field":"n","oneOf":["Australia 2010","Estonia 2013","Iceland 2010","Norway 2013"]}}],
   "mark":{"type":"rule","color":"#999999","strokeWidth":1},
   "encoding":{"x":{"datum":0},"y":{"datum":-0.005},"y2":{"datum":0.01}}},
  {"transform":[{"aggregate":[{"op":"count","as":"k"}],"groupby":["n"]}],
   "mark":{"type":"rect","fill":"#d3d3d3","stroke":"#000000","strokeWidth":1},
   "encoding":{"x":{"datum":0},"x2":{"datum":100},"y":{"datum":0.0118},"y2":{"datum":0.0147}}},
  {"transform":[{"aggregate":[{"op":"count","as":"k"}],"groupby":["n"]}],
   "mark":{"type":"text","fontSize":12,"fontWeight":"normal","font":"Liberation Sans","color":"#000000","baseline":"middle","align":"center"},
   "encoding":{"x":{"datum":50},"y":{"datum":0.01325},"text":{"field":"n"}}}
 ]
}
}
